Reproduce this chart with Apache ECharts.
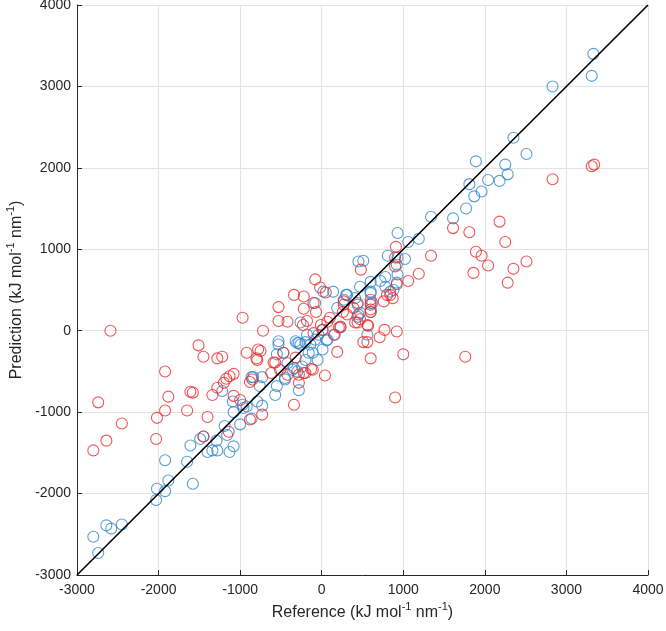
<!DOCTYPE html>
<html>
<head>
<meta charset="utf-8">
<script src="https://cdn.jsdelivr.net/npm/echarts@6/dist/echarts.min.js"></script>
<style>
html,body{margin:0;padding:0;background:#fff;}
#chart{width:666px;height:631px;}
</style>
</head>
<body>
<div id="chart"></div>
<script>
// Axis ticks
const axisTicks = [-3000, -2000, -1000, 0, 1000, 2000, 3000, 4000];

// Identity reference line
const identityLine = [[-3000, -3000], [4000, 4000]];

// Series 1 (blue): [reference, prediction]
const bluePoints = [
  [3330,3400],[3310,3130],[2830,3000],[2350,2370],[2510,2170],[1890,2080],[2250,2040],[2280,1920],
  [2180,1840],[2040,1850],[1810,1800],[1960,1710],[1870,1650],[1770,1500],[1610,1380],[1340,1400],
  [1190,1130],[1060,1090],[930,1200],[1020,880],[810,920],[510,860],[450,850],[930,900],[920,810],
  [930,690],[920,590],[780,660],[720,610],[600,600],[780,540],[840,480],[600,480],[470,540],[140,480],
  [20,480],[310,440],[620,340],[440,320],[600,230],[450,200],[270,380],[880,500],[600,460],[600,340],
  [560,-50],[70,-110],[10,-230],[470,220],
  [-2800,-2530],[-2740,-2730],[-2640,-2390],[-2580,-2430],[-2450,-2380],[-2030,-2080],[-2020,-1940],
  [-1920,-1970],[-1880,-1840],[-1920,-1590],[-1650,-1610],[-1580,-1880],[-1610,-1410],[-1490,-1330],
  [-1450,-1300],[-1400,-1490],[-1340,-1470],[-1280,-1470],[-1290,-1350],[-1190,-1170],[-1160,-1280],
  [-1130,-1490],[-1080,-1420],[-1080,-1000],[-1000,-1150],[-960,-950],[-920,-930],[-860,-1080],
  [-860,-570],[-790,-870],[-760,-680],[-730,-920],[-730,-570],[-1220,-740],[-570,-790],[-550,-680],
  [-530,-130],[-530,-170],[-550,-290],[-450,-600],[-420,-400],[-340,-460],[-320,-130],[-280,-730],
  [-280,-150],[-260,100],[-240,-440],[-200,-360],[-180,-50],[-160,-270],[-140,-170],[-80,340],
  [-50,-360],[60,-120],[160,-50],[190,280],[230,40],[300,440],[410,400],[440,170],
  [-470,-270],[-300,-150],[-260,-170],[-200,-140],[-110,-270],[-80,-110],[-40,-50],[10,10],
  [-840,-570],[-450,-580],[-360,-480],[-300,-500],[-970,-910],[-1090,-870]
];

// Series 2 (red): [reference, prediction]
const redPoints = [
  [3340,2040],[3310,2020],[2830,1860],[2180,1340],[1610,1260],[1810,1210],[2250,1090],[1890,970],
  [1960,920],[2040,800],[2510,850],[2350,760],[1860,710],[2280,590],[1340,920],[1190,700],[1060,610],
  [910,1030],[900,900],[900,790],[480,750],[920,570],[840,440],[800,440],[760,360],[870,400],[600,260],
  [600,230],[560,70],[770,10],[920,-10],[710,-80],[560,-140],[510,-140],[600,-340],[1000,-290],
  [1760,-320],[900,-820],[470,140],[440,100],[570,60],[190,-260],[40,-550],[-10,70],[150,-50],[210,40],
  [600,380],[600,320],[440,340],[390,280],[270,320],[260,230],[50,470],[-20,530],[100,160],[310,200],
  [-2590,0],[-2740,-880],[-2450,-1140],[-2640,-1350],[-2800,-1470],[-1920,-500],[-1880,-810],
  [-1920,-980],[-2020,-1070],[-2030,-1330],[-1650,-980],[-1610,-750],[-1580,-760],[-1510,-180],
  [-1450,-320],[-1400,-1060],[-1450,-1300],[-1340,-790],[-1280,-700],[-1280,-340],[-1220,-320],
  [-1200,-640],[-1170,-590],[-1130,-560],[-1080,-530],[-1080,-800],[-1140,-1240],[-1000,-850],
  [-970,160],[-920,-270],[-880,-630],[-880,-1090],[-800,-340],[-750,-250],[-720,0],[-730,-1030],
  [-620,-520],[-570,-390],[-530,290],[-530,120],[-510,-480],[-470,-270],[-420,110],[-420,-540],
  [-340,440],[-340,-910],[-320,-330],[-280,-540],[-280,-640],[-220,420],[-220,270],[-220,-520],
  [-180,120],[-130,-470],[-100,340],[-70,230],[-80,630],[10,10],[70,110],[230,50],[270,360],[410,100],
  [-230,70],[-100,-30],[-780,-230],[-790,-360],[-590,-390],[-200,-520],[-110,-480],[-850,-600]
];

const axisColor = '#262626';
const labelFont = 'Liberation Sans, Arial, sans-serif';
const rich = {
  a: {fontSize: 16, fontFamily: labelFont, color: axisColor, lineHeight: 22, verticalAlign: 'middle'},
  s: {fontSize: 11, fontFamily: labelFont, color: axisColor, lineHeight: 13, verticalAlign: 'top'}
};

function axisCommon() {
  return {
    type: 'value',
    min: axisTicks[0],
    max: axisTicks[axisTicks.length - 1],
    interval: 1000,
    nameLocation: 'middle',
    axisLine: {show: true, onZero: false, lineStyle: {color: axisColor, width: 1}},
    axisTick: {show: true, inside: true, length: 5, lineStyle: {color: axisColor}},
    splitLine: {show: true, lineStyle: {color: '#e3e3e3', width: 1}}
  };
}

const chart = echarts.init(document.getElementById('chart'), null, {renderer: 'canvas'});
chart.setOption({
  animation: false,
  backgroundColor: '#ffffff',
  grid: {left: 77, right: 18, top: 5, bottom: 56, containLabel: false, outerBoundsMode: 'none'},
  xAxis: Object.assign(axisCommon(), {
    name: '{a|Reference (kJ mol}{s|-1}{a| nm}{s|-1}{a|)}',
    nameGap: 26,
    nameTextStyle: {rich: rich},
    axisLabel: {color: axisColor, fontSize: 14, fontFamily: labelFont, margin: 8,
      formatter: v => String(v)}
  }),
  yAxis: Object.assign(axisCommon(), {
    name: '{a|Prediction (kJ mol}{s|-1}{a| nm}{s|-1}{a|)}',
    nameGap: 48,
    nameTextStyle: {rich: rich},
    axisLabel: {color: axisColor, fontSize: 14, fontFamily: labelFont, margin: 6,
      formatter: v => String(v)}
  }),
  series: [
    {
      type: 'scatter', data: bluePoints, symbol: 'circle', symbolSize: 11,
      itemStyle: {color: 'rgba(0,0,0,0)', borderColor: '#2f86cc', borderWidth: 1.1},
      z: 2
    },
    {
      type: 'scatter', data: redPoints, symbol: 'circle', symbolSize: 11,
      itemStyle: {color: 'rgba(0,0,0,0)', borderColor: '#ec2b2b', borderWidth: 1.1},
      z: 3
    },
    {
      type: 'line', data: identityLine, symbol: 'none',
      lineStyle: {color: '#000000', width: 1.6}, z: 4
    }
  ]
});
</script>
</body>
</html>
